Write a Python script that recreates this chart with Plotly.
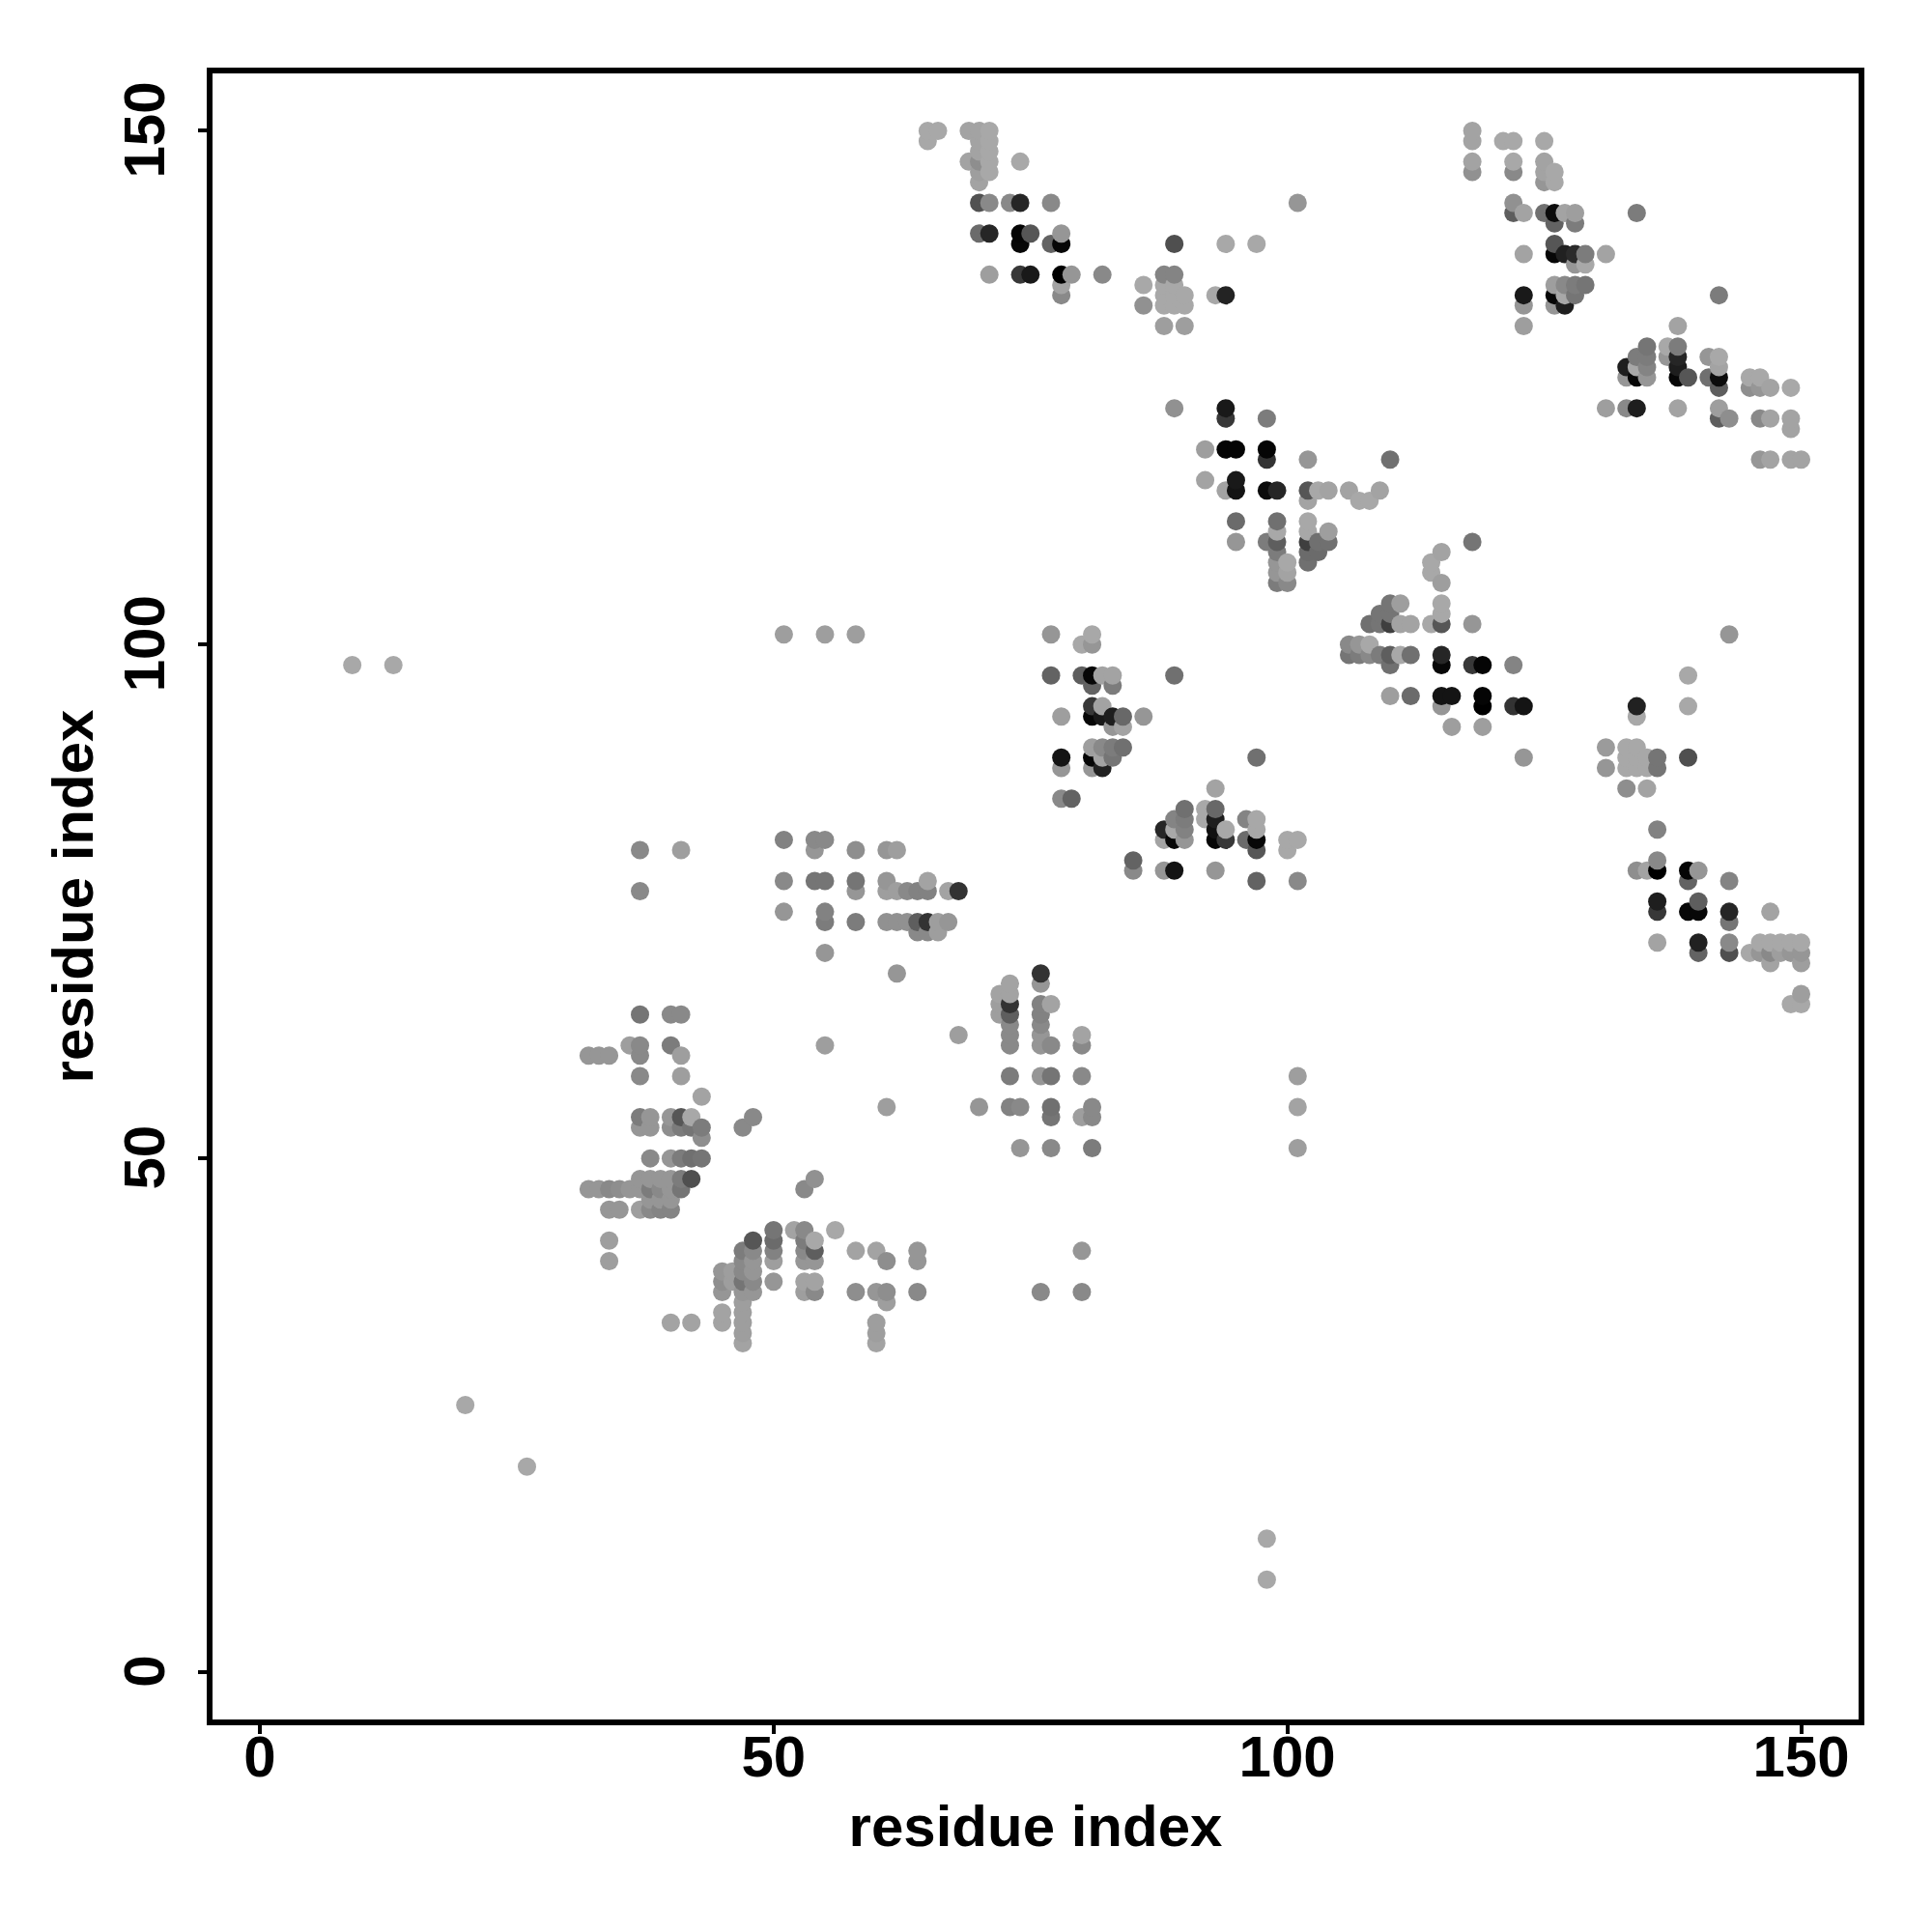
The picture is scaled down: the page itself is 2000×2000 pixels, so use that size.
import numpy as np
import plotly.graph_objects as go

# one line per row of contacts (same residue on the y axis)
contact_x = [
 65,66,69,70,71, 65,70,71, 70,71, 69,70,71,74, 70,71, 70,
 70,71,73,74,77,101, 70,71,74,75,78, 74,77,78,89,94,97,
 71,74,75,78,79,82,88,89, 78,86,88,89, 78,88,89,90,93,94, 86,88,89,90, 88,90,
 118,118,121,122,125, 118,122,125, 118,122,125,126, 125,126,
 122,122,123,125,126,127,128,134, 126,128, 126, 123,126,127,128,129,131, 128,129,
 126,127,128,129, 123,126,127,128,142, 123,126,127, 123,
 138, 135,137,138, 134,135,137,138,141,142, 133,134,135,138,142,
 133,134,135,138,139,141,142,145,146, 142,145,146,147,149,
 131,133,134,138,142, 142,143,146,147,149, 149, 146,147,149,150,
 89,94,94,98, 92,94,95,98, 98,102,110, 92,95, 94,95,98,99,102,103,104,106,109,
 102,107,108, 95,99,102, 99,102,104, 95,98,99,102,103,104, 99,102,103, 99,100,102,
 99,100, 99,100,
 118,115,114,114,115,115,115, 108,109,110,111,112,114,115,118, 109,110, 110,111,
 106,107,108, 106,107,108,109,110,111,112,115, 110,115,118,119,122,143,
 110,112,115,116,119, 115,119,122,123, 116,119, 123, 139,139,134,134,
 131,131,133,134,133,134,135,133,134,135,136,136,139,133,135,
 136,136,134,135,136,139,140,139,143,136,140,136,139,140,143,147,143,
 136,140,143,146,147,148,149,150, 140,143,145,146,147,148,149,150, 147,150, 150,149,150,
 77,81,80,81, 77,80,81,82,83,89, 81,83, 81,82, 78,81,82,83,84,86, 83,84,
 81,82,83,84, 78,81,82,83, 78,81,82, 78,79,
 97,93, 90,92,93, 89,90,92,93,96,97, 88,89,90,93,94,97, 88,89,90,93,94,96,97,100,101, 97,100,
 85, 85,88,89,93, 97,101,
 51,54,55, 54,58,61,62, 51,54,55,58,61,65, 58,61,62,63,64,65,67,68,
 51,55, 55,58,61,62,63,64,65,66,67, 64,65,66, 55, 62,
 37,40,41, 36,37,40, 32,33,34,37,41, 37,41, 43,
 37,38,40,41,42, 37,38,40,41,42,43, 43, 48,47,
 38,40,41,42,43, 37,38,39,40,41,42, 32,33,34,35,36,37,38,39,40,41,
 38,39,40, 34,35,37,38,39,40, 34,34,
 76,76,73, 72,73, 72,73,76,77, 72,73,76, 73,76, 73,76,80, 73,76,77,80,
 73,76,77,80, 70,73,74,77,81, 77,80,81, 74,77,81,
 54,53, 48,50,50,50,50,47,48, 52,53,53,54,53,54,53,54,56,58,60,61,64,64,
 45,45,45,46,46,47,47,47,47,48,48,48,48, 50,53,54,53,54,58,60,61,61,64,
 45,45,47,47,47,47,47,60,60,60,42,40,
 9,13,20,26,98,98,51,55,58,37,41,37,61,55,68,101,101,101,80,76,80,
]
contact_y = [
 150,150,150,150,150, 149,149,149, 148,148, 147,147,147,147, 146,146, 145,
 143,143,143,143,143,143, 140,140,140,140,140, 139,139,139,139,139,139,
 136,136,136,136,136,136,136,136, 135,135,135,135, 134,134,134,134,134,134, 133,133,133,133, 131,131,
 150,149,149,149,149, 147,147,147, 146,146,146,146, 145,145,
 143,142,142,142,142,142,142,142, 141,141, 139, 138,138,138,138,138,138, 137,137,
 135,135,135,135, 134,134,134,134,134, 133,133,133, 131,
 131, 129,129,129, 128,128,128,128,128,128, 127,127,127,127,127,
 126,126,126,126,126,126,126,126,126, 125,125,125,125,125,
 123,123,123,123,123, 122,122,122,122,122, 121, 118,118,118,118,
 123,123,122,122, 119,119,119,119, 118,118,118, 116,116, 115,115,115,115,115,115,115,115,115,
 114,114,114, 112,112,112, 111,111,111, 110,110,110,110,110,110, 109,109,109, 108,108,108,
 107,107, 106,106,
 110,109,108,107,106,104,103, 102,102,102,102,102,102,102,102, 103,103, 104,104,
 100,100,100, 99,99,99,99,99,99,99,99, 98,98,98,98,98,101,
 95,95,95,95,95, 94,94,94,94, 92,92, 89, 97,94,94,93,
 90,88,90,90,89,89,89,88,88,88,89,88,89,86,86,
 82,79,78,78,78,78,78,77,77,75,75,74,74,74,74,74,73,
 71,71,71,71,71,71,71,71, 70,70,70,70,70,70,70,70, 69,69, 66,65,65,
 101,101,100,100, 97,97,97,97,97,97, 96,96, 94,94, 93,93,93,93,93,93, 92,92,
 90,90,90,90, 89,89,89,89, 88,88,88, 85,85,
 89,86, 84,84,84, 83,83,83,83,83,83, 82,82,82,82,82,82, 81,81,81,81,81,81,81,81,81, 80,80,
 79, 78,78,78,78, 77,77,
 81,81,81, 80,80,80,80, 77,77,77,77,77,77, 76,76,76,76,76,76,76,76,
 74,74, 73,73,73,73,73,73,73,73,73, 72,72,72, 70, 68,
 64,64,64, 61,61,61, 60,60,60,60,60, 58,58, 56,
 54,54,54,54,54, 53,53,53,53,53,53, 52, 54,53,
 50,50,50,50,50, 48,48,48,48,48,48, 47,47,47,47,47,47,47,47,47,47,
 46,46,46, 45,45,45,45,45,45, 42,40,
 68,67,67, 66,66, 65,65,65,65, 64,64,64, 63,63, 62,62,62, 61,61,61,61,
 58,58,58,58, 55,55,55,55,55, 54,54,54, 51,51,51,
 48,47, 42,43,42,41,40,41,41, 43,43,42,42,41,41,40,40,43,41,41,40,41,40,
 39,38,37,39,38,40,39,38,37,40,39,38,37, 38,38,38,37,37,37,37,37,36,37,
 35,34,36,35,34,33,32,34,33,32,34,34,
 98,98,26,20,13,9,101,101,101,80,80,76,55,61,62,58,55,51,41,37,37,
]
contact_gray = [
 .62,.62,.6,.6,.62, .62,.6,.63, .6,.63, .6,.52,.63,.62, .58,.63, .6,
 .28,.5,.5,.15,.5,.55, .38,.15,.02,.3,.55, .03,.35,.03,.27,.62,.62,
 .58,.22,.1,.0,.55,.5,.48,.48, .6,.62,.63,.63, .5,.63,.63,.63,.65,.14, .53,.63,.63,.63, .58,.58,
 .6,.6,.62,.62,.62, .6,.62,.6, .53,.5,.6,.62, .55,.62,
 .53,.33,.6,.4,.05,.6,.58,.45, .35,.45, .3, .6,.03,.13,.17,.45,.6, .55,.62,
 .58,.5,.45,.42, .1,.03,.62,.42,.45, .55,.55,.12, .58,
 .6, .42,.65,.45, .45,.45,.55,.15,.55,.62, .12,.65,.48,.12,.6,
 .55,.03,.55,.03,.3,.4,.05,.62,.62, .33,.52,.55,.6,.62,
 .58,.5,.12,.6,.58, .33,.52,.5,.6,.6, .6, .55,.6,.6,.6,
 .53,.1,.22,.45, .58,.02,.02,.02, .2,.55,.4, .6,.1, .6,.08,.05,.15,.3,.62,.6,.6,.6,
 .6,.63,.63, .38,.4,.62, .62,.62,.58, .55,.45,.33,.25,.4,.4, .45,.38,.38, .55,.65,.4,
 .55,.6, .45,.5,
 .42,.6,.62,.62,.58,.62,.62, .4,.42,.25,.6,.6,.62,.3,.55, .42,.42, .42,.58,
 .5,.55,.62, .42,.45,.5,.45,.33,.62,.4,.15, .4,.03,.22,.02,.48,.55,
 .58,.38,.08,.08,.02, .55,.0,.2,.08, .58,.58, .55, .65,.63,.13,.65,
 .57,.55,.63,.63,.63,.63,.63,.63,.63,.63,.42,.42,.27,.52,.6,
 .47,.5,.52,.6,.0,.02,.55,.35,.48,.12,.33,.22,.03,.03,.15,.6,.42,
 .6,.13,.5,.62,.62,.62,.62,.62, .35,.27,.62,.55,.5,.58,.55,.55, .6,.58, .58,.62,.62,
 .55,.62,.62,.55, .35,.33,.03,.6,.6,.4, .35,.45, .22,.6, .58,.03,.1,.12,.37,.55, .55,.6,
 .58,.5,.45,.4, .08,.02,.6,.42, .55,.55,.13, .5,.35,
 .4,.6, .4,.62,.37, .48,.45,.62,.12,.48,.62, .15,.62,.47,.07,.62,.62, .6,.03,.55,.03,.22,.38,.03,.62,.62, .3,.62,
 .35, .5,.55,.08,.55, .35,.5,
 .47,.5,.5, .55,.52,.55,.58, .5,.42,.42,.42,.55,.6, .55,.58,.58,.5,.47,.47,.6,.2,
 .55,.47, .45,.45,.53,.53,.53,.33,.2,.58,.55, .5,.5,.58, .55, .55,
 .42,.5,.5, .58,.5,.45, .55,.55,.55,.5,.58, .5,.58, .6,
 .45,.55,.55,.3,.62, .55,.55,.52,.45,.42,.45, .52, .5,.5,
 .5,.55,.45,.4,.42, .55,.55,.55,.55,.45,.27, .55,.55,.5,.52,.55,.55,.45,.5,.55,.42,
 .55,.55,.55, .55,.55,.58,.5,.48,.48, .58,.58,
 .2,.55,.6, .6,.6, .58,.2,.47,.6, .58,.33,.47, .5,.5, .5,.55,.6, .5,.55,.5,.5,
 .45,.55,.42,.5, .55,.47,.5,.4,.5, .42,.58,.5, .55,.5,.45,
 .53,.5, .3,.42,.38,.47,.58,.45,.5, .6,.5,.45,.65,.5,.33,.55,.55,.62,.6,.6,.52,.55,.55,
 .55,.52,.55,.58,.58,.5,.5,.42,.55,.55,.55,.5,.55, .55,.6,.6,.58,.5,.52,.55,.52,.58,.5,
 .6,.6,.58,.58,.58,.58,.6,.58,.58,.6,.6,.6,
 .62,.62,.62,.62,.62,.62,.58,.58,.58,.5,.58,.5,.58,.58,.58,.58,.6,.58,.55,.5,.5,
]
axis_ticks = [0, 50, 100, 150]
axis_title = "residue index"

assert len(contact_x) == len(contact_y) == len(contact_gray), (len(contact_x), len(contact_y), len(contact_gray))

order = np.lexsort((contact_y, contact_x))
xs = np.array(contact_x)[order]
ys = np.array(contact_y)[order]
gs = np.array(contact_gray)[order]
gs = np.where(gs > 0.25, np.minimum(gs + 0.04, 0.66), gs)
colors = [f"rgb({int(g*255)},{int(g*255)},{int(g*255)})" for g in gs]

fig = go.Figure(go.Scatter(x=xs, y=ys, mode="markers",
                           marker=dict(size=19, color=colors, line=dict(width=0)),
                           hoverinfo="x+y"))
FONT = dict(family="Liberation Sans", size=60, color="black", weight="bold")
axis = dict(tickmode="array", tickvals=axis_ticks, ticks="outside", ticklen=9, tickwidth=4,
            tickcolor="black", showline=True, linecolor="black", linewidth=6, mirror=True,
            showgrid=False, zeroline=False, tickfont=FONT)
fig.update_xaxes(range=[-4.6, 155.59], ticklabelstandoff=-28,
                 title=dict(text=axis_title, font=FONT, standoff=20), **axis)
fig.update_yaxes(range=[-4.61, 155.59], tickangle=-90, ticklabelstandoff=11, ticklabelshift=8,
                 title=dict(text=axis_title, font=FONT, standoff=2), **axis)
fig.update_layout(width=2000, height=2000, margin=dict(l=212, r=84, t=68, b=228, autoexpand=False),
                  plot_bgcolor="white", paper_bgcolor="white", showlegend=False)
fig.write_html("out.html")
